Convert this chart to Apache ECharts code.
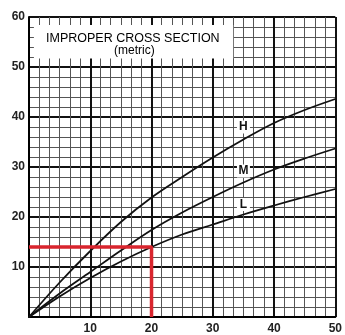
<!DOCTYPE html>
<html>
<head>
<meta charset="utf-8">
<script src="https://cdn.jsdelivr.net/npm/echarts@6/dist/echarts.min.js"></script>
<style>
html,body{margin:0;padding:0;background:#fff;}
#chart{width:345px;height:335px;}
</style>
</head>
<body>
<div id="chart"></div>
<script>
// Data
const xValues = [0, 5, 10, 15, 20, 25, 30, 35, 40, 45, 50];
const hValues = [0, 6.9, 13.2, 19.0, 23.9, 28.0, 31.9, 35.5, 38.8, 41.4, 43.6];
const mValues = [0, 4.7, 9.0, 13.3, 17.4, 20.9, 24.0, 26.9, 29.5, 31.7, 33.7];
const lValues = [0, 4.1, 7.8, 11.1, 14.0, 16.5, 18.5, 20.5, 22.3, 24.0, 25.6];
const curveNames = ['H', 'M', 'L'];
const curveLabelX = [35, 35, 35];
const curveLabelY = [38.0, 29.2, 22.5];
const refX = [0, 20, 20];
const refY = [14, 14, 0];
const xTicks = [10, 20, 30, 40, 50];
const yTicks = [10, 20, 30, 40, 50, 60];
const titleLines = ['IMPROPER CROSS SECTION', '(metric)'];

const chart = echarts.init(document.getElementById('chart'), null, {renderer: 'canvas'});
const FONT = '"Liberation Sans", Arial, sans-serif';

function pairs(xs, ys) { return xs.map((x, i) => [x, ys[i]]); }

const curveSeries = [hValues, mValues, lValues].map((vals, i) => ({
  type: 'line',
  name: curveNames[i],
  data: pairs(xValues, vals),
  smooth: 0.35,
  symbol: 'none',
  lineStyle: {color: '#111', width: 1.8},
  z: 5,
  markPoint: {
    symbol: 'rect',
    symbolSize: [13, 13],
    itemStyle: {color: '#fff'},
    label: {show: true, color: '#111', fontFamily: FONT, fontWeight: 'bold', fontSize: 12, formatter: curveNames[i]},
    data: [{coord: [curveLabelX[i], curveLabelY[i]]}],
    z: 6
  }
}));

const option = {
  animation: false,
  backgroundColor: '#fff',
  grid: {left: 29, right: 7, top: 17, bottom: 14, containLabel: false},
  xAxis: {
    type: 'value', min: 0, max: 50, interval: 10,
    axisLine: {show: true, lineStyle: {color: '#000', width: 2}},
    axisTick: {show: false},
    axisLabel: {
      show: true, margin: 6, color: '#222', fontFamily: FONT, fontSize: 12, fontWeight: 'bold',
      formatter: v => (xTicks.indexOf(v) >= 0 ? String(v) : '')
    },
    splitLine: {show: true, lineStyle: {color: '#111', width: 2}},
    minorTick: {show: false, splitNumber: 6},
    minorSplitLine: {show: true, lineStyle: {color: '#555', width: 1}}
  },
  yAxis: {
    type: 'value', min: 0, max: 60, interval: 10,
    axisLine: {show: true, lineStyle: {color: '#000', width: 2}},
    axisTick: {show: false},
    axisLabel: {
      show: true, margin: 4, color: '#222', fontFamily: FONT, fontSize: 12, fontWeight: 'bold',
      formatter: v => (yTicks.indexOf(v) >= 0 ? String(v) : '')
    },
    splitLine: {show: true, lineStyle: {color: '#111', width: 2}},
    minorTick: {show: false, splitNumber: 5},
    minorSplitLine: {show: true, lineStyle: {color: '#555', width: 1}}
  },
  series: [
    {
      type: 'line',
      name: 'box',
      data: [],
      silent: true,
      markArea: {
        silent: true,
        itemStyle: {color: '#fff', opacity: 1},
        data: [[{coord: [0.8, 51.7]}, {coord: [33.33, 58.4]}]]
      },
      z: 2
    },
    ...curveSeries,
    {
      type: 'line',
      name: 'ref',
      data: pairs(refX, refY),
      symbol: 'none',
      lineStyle: {color: '#d9252e', width: 3.5},
      z: 7
    }
  ],
  graphic: [
    {type: 'text', left: 46, top: 32, z: 10,
      style: {text: titleLines[0], fill: '#000', font: '12.5px ' + FONT}},
    {type: 'text', left: 114, top: 45, z: 10,
      style: {text: titleLines[1], fill: '#000', font: '12px ' + FONT}}
  ]
};
chart.setOption(option);
</script>
</body>
</html>
